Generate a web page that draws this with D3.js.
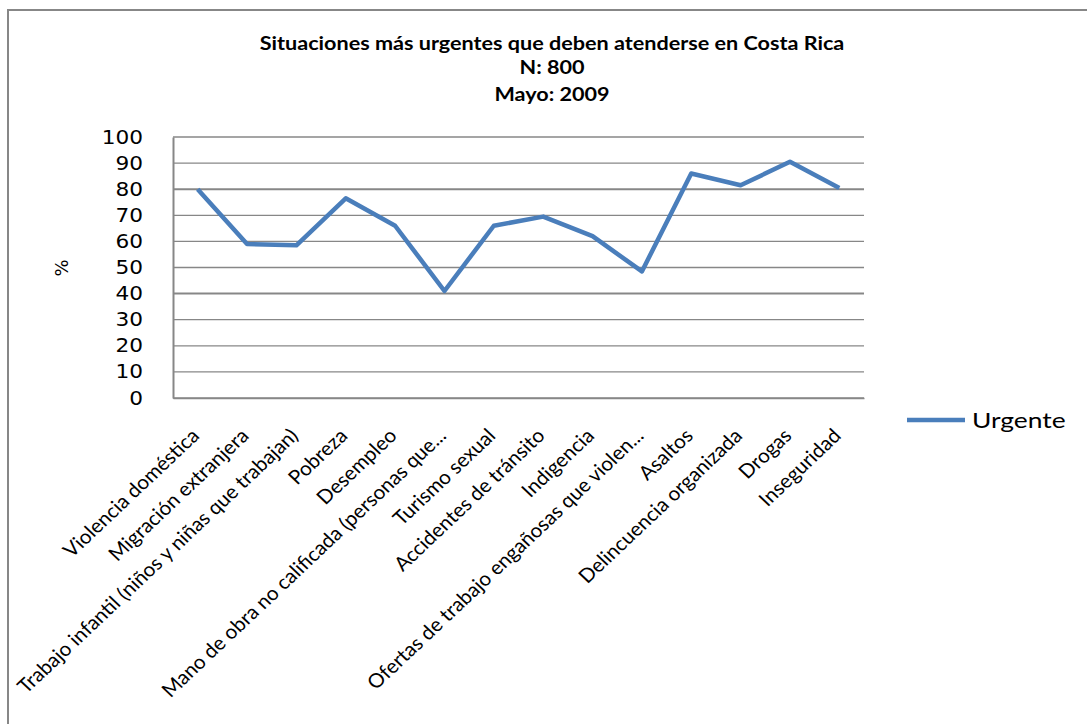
<!DOCTYPE html>
<meta charset="utf-8">
<script src="https://d3js.org/d3.v7.min.js"></script>
<style>
  body { margin: 0; background: #fff; }
  text { font-family: Lato, "Open Sans", sans-serif; fill: #000; }
</style>
<div id="chart"></div>
<script>
  // data
  var categories = [
    "Violencia doméstica",
    "Migración extranjera",
    "Trabajo infantil (niños y niñas que trabajan)",
    "Pobreza",
    "Desempleo",
    "Mano de obra no calificada (personas que...",
    "Turismo sexual",
    "Accidentes de tránsito",
    "Indigencia",
    "Ofertas de trabajo engañosas que violen...",
    "Asaltos",
    "Delincuencia organizada",
    "Drogas",
    "Inseguridad"
  ];
  var urgente = [80, 59, 58.5, 76.5, 66, 41, 66, 69.5, 62, 48.5, 86, 81.5, 90.5, 80.5];
  var yTicks = [0, 10, 20, 30, 40, 50, 60, 70, 80, 90, 100];
  var titleLines = ["Situaciones más urgentes que deben atenderse en Costa Rica", "N: 800", "Mayo: 2009"];
  var seriesName = "Urgente";

  var W = 1087, H = 724;
  var plot = {left: 173, top: 137, right: 864, bottom: 398};
  // the source picture is stretched sideways, so text is widened a bit
  var stretch = 1.06;

  var svg = d3.select("#chart").append("svg")
    .attr("width", W).attr("height", H);

  // chart area clip + border (only top and left are visible)
  svg.append("clipPath").attr("id", "area")
    .append("rect").attr("x", 9).attr("y", 10).attr("width", W).attr("height", H);
  svg.append("path")
    .attr("d", "M8," + H + "V10H" + W)
    .attr("fill", "none").attr("stroke", "#878787").attr("stroke-width", 2);

  var root = svg.append("g").attr("clip-path", "url(#area)");

  var x = d3.scaleBand()
    .domain(categories)
    .range([plot.left, plot.right]);

  var y = d3.scaleLinear()
    .domain([0, 100])
    .range([plot.bottom, plot.top]);

  // gridlines
  root.append("g").selectAll("line")
    .data(yTicks)
    .enter().append("line")
      .attr("x1", plot.left).attr("x2", plot.right)
      .attr("y1", function(d) { return y(d); })
      .attr("y2", function(d) { return y(d); })
      .attr("stroke", "#878787")
      .attr("stroke-width", function(d) { return (d == 40 || d == 80) ? 2 : 1.3; });

  // y axis
  var yAxis = root.append("g")
    .attr("transform", "translate(" + plot.left + ",0)")
    .call(d3.axisLeft(y).tickValues(yTicks).tickSize(0).tickPadding(0));
  yAxis.select(".domain").attr("stroke", "#878787").attr("stroke-width", 2);
  yAxis.selectAll("text")
    .style("font-family", "'DejaVu Sans', Verdana, sans-serif")
    .style("font-size", "19px")
    .attr("fill", "#000")
    .attr("x", 0)
    .attr("transform", "translate(-30,0) scale(1.14,1)");

  root.append("text")
    .attr("transform", "translate(68,268) rotate(-90)")
    .attr("text-anchor", "middle")
    .style("font-family", "'DejaVu Sans', Verdana, sans-serif")
    .style("font-size", "18px")
    .text("%");

  // x axis labels (the long one is cut by the chart edge, as in the source)
  var xAxis = root.append("g")
    .attr("transform", "translate(0," + plot.bottom + ")")
    .call(d3.axisBottom(x).tickSize(0).tickSizeOuter(0));
  xAxis.select(".domain").attr("stroke", "#878787").attr("stroke-width", 1.3);
  xAxis.selectAll("text")
    .style("font-size", "19.6px")
    .attr("fill", "#000")
    .attr("text-anchor", "end")
    .attr("dy", null)
    .attr("y", 0)
    .attr("transform", "translate(3,39) scale(" + stretch + ",1) rotate(-45)");

  // line
  var line = d3.line()
    .x(function(d, i) { return x(categories[i]) + x.bandwidth() / 2; })
    .y(function(d) { return y(d); });

  root.append("path")
    .datum(urgente)
    .attr("d", line)
    .attr("fill", "none")
    .attr("stroke", "#4a7ebb")
    .attr("stroke-width", 4.5)
    .attr("stroke-linejoin", "round");

  // title
  var title = root.append("g").attr("text-anchor", "middle");
  title.selectAll("text")
    .data(titleLines)
    .enter().append("text")
      .attr("transform", function(d, i) {
        return "translate(552," + [50, 74, 101][i] + ") scale(1.2,1)";
      })
      .style("font-size", "18px")
      .style("font-weight", "bold")
      .text(function(d) { return d; });

  // legend
  var legend = root.append("g").attr("transform", "translate(907,420)");
  legend.append("line")
    .attr("x1", 0).attr("x2", 58)
    .attr("stroke", "#4a7ebb").attr("stroke-width", 4.5);
  legend.append("text")
    .attr("transform", "translate(65,8) scale(1.2,1)")
    .style("font-size", "22px")
    .text(seriesName);
</script>
